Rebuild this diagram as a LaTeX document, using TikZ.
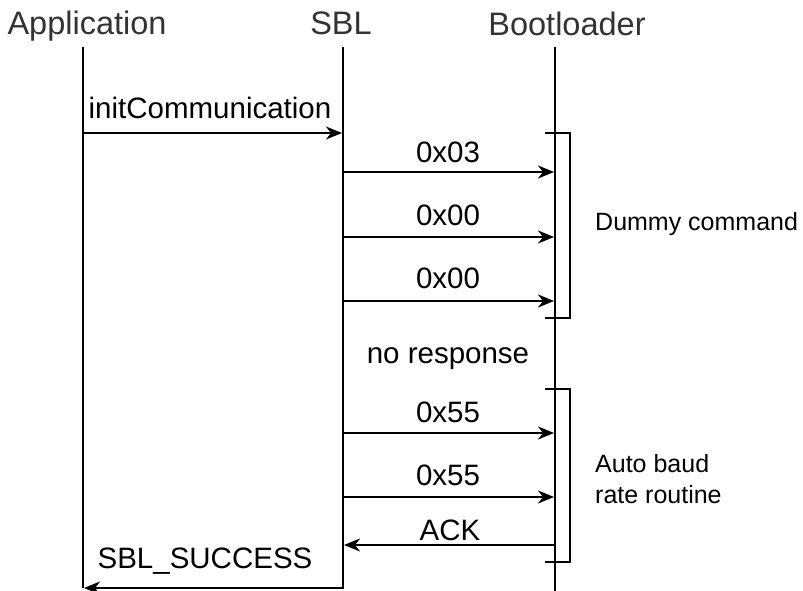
\documentclass[tikz,border=0pt]{standalone}
\usepackage{fontspec}
\setmainfont{Liberation Sans}
\usetikzlibrary{arrows.meta}
\definecolor{headgray}{RGB}{51,51,51}
\begin{document}
\begin{tikzpicture}[x=1pt,y=-1pt,
  header/.style={anchor=base,inner sep=0pt,text=headgray,font=\fontsize{32.5}{38}\selectfont},
  msglabel/.style={anchor=base,inner sep=0pt,font=\fontsize{29.5}{35}\selectfont},
  sidelabel/.style={anchor=west,inner sep=0pt,align=left,font=\fontsize{25}{31}\selectfont},
  lifeline/.style={line width=2.5pt},
  msg/.style={line width=2.5pt,-{Stealth[length=16pt,width=13pt,inset=5pt]}},
  bracket/.style={line width=2.3pt,line join=miter}]
\useasboundingbox (0,0) rectangle (803,591);
% headers
\node[header] (app) at (87,35) {Application};
\node[header] (sbl) at (341,35) {SBL};
\node[header] (boot) at (567,36) {Bootloader};
% lifelines
\coordinate (appT) at (83,47);  \coordinate (appB) at (83,588);
\coordinate (sblT) at (343,47); \coordinate (sblB) at (343,588);
\coordinate (bootT) at (555,47); \coordinate (bootB) at (555,595);
\draw[lifeline] (appT) -- (appB);
\draw[lifeline] (sblT) -- (sblB);
\draw[lifeline] (bootT) -- (bootB);
% brackets
\coordinate (br1a) at (545,133); \coordinate (br1b) at (570,133);
\coordinate (br1c) at (570,318); \coordinate (br1d) at (545,318);
\draw[bracket] (br1a) -- (br1b) -- (br1c) -- (br1d);
\coordinate (br2a) at (545,389); \coordinate (br2b) at (570,389);
\coordinate (br2c) at (570,562); \coordinate (br2d) at (545,562);
\draw[bracket] (br2a) -- (br2b) -- (br2c) -- (br2d);
% messages
\coordinate (m0a) at (84,133);  \coordinate (m0b) at (342,133);
\coordinate (m1a) at (344,172); \coordinate (m1b) at (554,172);
\coordinate (m2a) at (344,237); \coordinate (m2b) at (554,237);
\coordinate (m3a) at (344,301); \coordinate (m3b) at (554,301);
\coordinate (m4a) at (344,433); \coordinate (m4b) at (554,433);
\coordinate (m5a) at (344,497); \coordinate (m5b) at (554,497);
\coordinate (m6a) at (554,545); \coordinate (m6b) at (344,545);
\coordinate (m7a) at (344,588); \coordinate (m7b) at (84,588);
\draw[msg] (m0a) -- (m0b);
\draw[msg] (m1a) -- (m1b);
\draw[msg] (m2a) -- (m2b);
\draw[msg] (m3a) -- (m3b);
\draw[msg] (m4a) -- (m4b);
\draw[msg] (m5a) -- (m5b);
\draw[msg] (m6a) -- (m6b);
\draw[msg] (m7a) -- (m7b);
% labels
\node[msglabel] (l0) at (210,119) {initCommunication};
\node[msglabel] (l1) at (448,162) {0x03};
\node[msglabel] (l2) at (448,225) {0x00};
\node[msglabel] (l3) at (448,288) {0x00};
\node[msglabel] (l4) at (448,363) {no response};
\node[msglabel] (l5) at (448,422) {0x55};
\node[msglabel] (l6) at (448,485) {0x55};
\node[msglabel] (l7) at (450,540) {ACK};
\node[msglabel] (l8) at (205,568) {SBL\_SUCCESS};
\node[sidelabel] (d1) at (595,224) {Dummy command};
\node[sidelabel] (d2) at (595,479.5) {Auto baud\\rate routine};
\end{tikzpicture}
\end{document}
